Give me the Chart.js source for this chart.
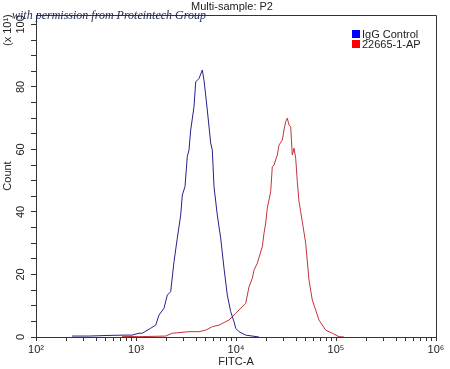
<!DOCTYPE html>
<html><head><meta charset="utf-8">
<script src="https://cdn.jsdelivr.net/npm/chart.js@4/dist/chart.umd.min.js"></script>
<style>html,body{margin:0;padding:0;background:#fff}</style>
</head><body><canvas id="c" width="450" height="369"></canvas>
<script>
const chartTitle = 'Multi-sample: P2';
const watermark = 'with permission from Proteintech Group';
const xTitle = 'FITC-A';
const yTitle = 'Count';
const yMultiplier = '(x 10\u00b9)';
const seriesNames = ['IgG Control', '22665-1-AP'];
const seriesColors = ['#22228c', '#c0343c'];
const legendColors = ['#0000ff', '#ff0000'];

const blueX = [229, 339, 537, 759, 912, 1072, 1156, 1403, 1574, 1698, 1905, 2056, 2222, 2399, 2588, 2799, 2904, 3090, 3258, 3388, 3524, 3802, 3954, 4266, 4603, 4786, 5164, 5585, 5794, 6026, 6501, 7031, 7586, 8185, 8851, 9550, 9931, 10715, 12500, 16982];
const blueY = [0.3, 0.3, 0.5, 0.6, 0.6, 1.2, 1.2, 2.8, 3.8, 7.0, 9.2, 13.4, 14.5, 24.1, 31.6, 39.0, 45.4, 48.1, 57.7, 59.8, 66.2, 73.7, 81.6, 82.7, 85.4, 82.2, 72.6, 62.0, 59.8, 48.1, 39.0, 31.6, 22.0, 13.4, 8.1, 4.9, 2.8, 1.7, 0.6, 0];

const redX = [724, 1072, 1982, 2307, 3388, 4266, 4977, 5794, 6761, 7889, 8511, 9931, 10715, 12503, 13490, 14555, 15136, 16331, 18323, 19055, 19815, 20559, 22233, 23067, 23988, 25882, 26915, 29040, 30200, 31405, 32584, 33884, 35237, 36559, 38019, 39537, 41020, 42658, 44361, 46026, 49774, 53703, 57943, 62661, 67608, 78886, 91833, 107152, 120226];
const redY = [0.2, 0.1, 0.3, 1.2, 1.7, 1.7, 2.2, 3.3, 3.8, 4.9, 5.4, 7.6, 8.6, 10.8, 16.0, 18.8, 21.4, 23.6, 28.9, 33.2, 36.4, 41.2, 46.5, 54.5, 55.0, 58.2, 61.4, 63.0, 66.2, 68.9, 70.0, 67.8, 67.3, 58.2, 60.4, 57.2, 49.7, 43.3, 40.1, 36.9, 30.0, 18.2, 11.8, 8.6, 5.4, 2.2, 1.2, 0.1, 0];

const xDecades = [2, 3, 4, 5, 6];
const yMajorTicks = [0, 20, 40, 60, 80, 100];
const yMinorStep = 5;
const yMax = 103;

const sup = {'0':'\u2070','1':'\u00b9','2':'\u00b2','3':'\u00b3','4':'\u2074','5':'\u2075','6':'\u2076','7':'\u2077','8':'\u2078','9':'\u2079'};
const FONT = '"Liberation Sans", Arial, sans-serif';

function toPoints(xs, ys) { return xs.map((x, i) => ({x: x, y: ys[i]})); }

const decor = {
  id: 'decor',
  afterDraw(chart) {
    const {ctx, chartArea: a, scales: {y}} = chart;
    ctx.save();
    ctx.strokeStyle = '#333'; ctx.lineWidth = 1;
    ctx.beginPath();
    ctx.moveTo(a.left, Math.round(a.top) + 0.5);
    ctx.lineTo(Math.round(a.right) + 0.5, Math.round(a.top) + 0.5);
    ctx.lineTo(Math.round(a.right) + 0.5, a.bottom);
    ctx.stroke();

    ctx.fillStyle = '#222';
    ctx.font = '11px ' + FONT;
    ctx.textAlign = 'center'; ctx.textBaseline = 'middle';
    yMajorTicks.forEach(v => {
      const py = y.getPixelForValue(v);
      ctx.save(); ctx.translate(a.left - 15, py); ctx.rotate(-Math.PI / 2);
      ctx.fillText(String(v), 0, 0); ctx.restore();
    });
    ctx.save(); ctx.translate(8, a.top + 31); ctx.rotate(-Math.PI / 2);
    ctx.textAlign = 'left'; ctx.fillText(yMultiplier, 0, 0); ctx.restore();

    ctx.textAlign = 'center';
    ctx.fillText(chartTitle, (a.left + a.right) / 2 - 4, 7);

    // legend
    const lx = a.right - 84, ly = a.top + 19;
    seriesNames.forEach((n, i) => {
      ctx.fillStyle = legendColors[i];
      ctx.fillRect(lx, ly + i * 10 - 4, 8, 8);
      ctx.fillStyle = '#222'; ctx.textAlign = 'left'; ctx.textBaseline = 'middle';
      ctx.fillText(n, lx + 10, ly + i * 10 + 0.5);
    });

    ctx.font = 'italic 12px "Liberation Serif", "DejaVu Serif", serif';
    ctx.fillStyle = '#1d2550'; ctx.textAlign = 'left'; ctx.textBaseline = 'alphabetic';
    ctx.fillText(watermark, 12, 19);
    ctx.restore();
  }
};

new Chart(document.getElementById('c'), {
  type: 'line',
  data: {
    datasets: [
      {label: seriesNames[0], data: toPoints(blueX, blueY), borderColor: seriesColors[0], borderWidth: 1, pointRadius: 0, tension: 0, fill: false},
      {label: seriesNames[1], data: toPoints(redX, redY), borderColor: seriesColors[1], borderWidth: 1, pointRadius: 0, tension: 0, fill: false}
    ]
  },
  options: {
    responsive: false,
    animation: false,
    events: [],
    layout: {padding: {top: 15, right: 14, left: 0, bottom: 0}},
    plugins: {legend: {display: false}, title: {display: false}, tooltip: {enabled: false}},
    scales: {
      x: {
        type: 'logarithmic',
        min: Math.pow(10, xDecades[0]),
        max: Math.pow(10, xDecades[xDecades.length - 1]),
        afterBuildTicks(scale) {
          const t = [];
          xDecades.forEach((d, i) => {
            if (i === xDecades.length - 1) { t.push({value: Math.pow(10, d)}); return; }
            for (let k = 1; k <= 9; k++) t.push({value: k * Math.pow(10, d)});
          });
          scale.ticks = t;
        },
        afterFit(scale) { scale.height = 32; },
        grid: {drawOnChartArea: false, tickLength: 4, color: '#333'},
        border: {color: '#333'},
        ticks: {
          autoSkip: false, maxRotation: 0, minRotation: 0, padding: 2,
          color: '#222', font: {family: FONT, size: 11},
          callback(v) {
            const e = Math.log10(v);
            if (Math.abs(e - Math.round(e)) < 1e-9) return '10' + String(Math.round(e)).split('').map(c => sup[c]).join('');
            return '';
          }
        },
        title: {display: true, text: xTitle, color: '#222', font: {family: FONT, size: 11}, padding: {top: 0, bottom: 0}}
      },
      y: {
        min: 0, max: yMax,
        afterBuildTicks(scale) {
          const t = [];
          for (let v = 0; v <= yMajorTicks[yMajorTicks.length - 1]; v += yMinorStep) t.push({value: v});
          scale.ticks = t;
        },
        afterFit(scale) { scale.width = 36; },
        grid: {drawOnChartArea: false, tickLength: 5, color: '#333'},
        border: {color: '#333'},
        ticks: {display: false},
        title: {display: true, text: yTitle, color: '#222', font: {family: FONT, size: 11}, padding: {top: 1, bottom: 0}}
      }
    }
  },
  plugins: [decor]
});
</script></body></html>
